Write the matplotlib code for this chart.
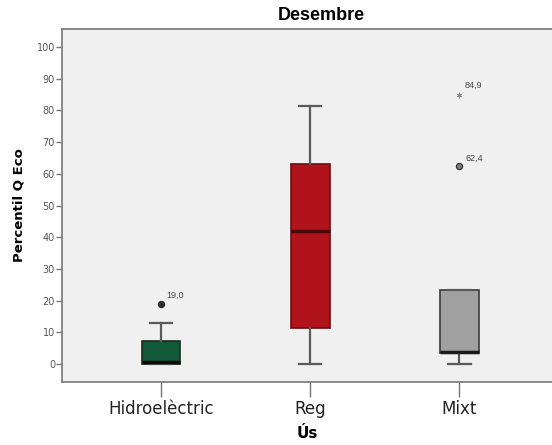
import matplotlib
matplotlib.use("Agg")
import matplotlib.pyplot as plt

categories = ["Hidroelèctric", "Reg", "Mixt"]
q1 = [0.0, 11.3, 3.4]
medians = [0.5, 42.0, 3.8]
q3 = [7.2, 63.0, 23.3]
whisk_lo = [0.0, 0.0, 0.0]
whisk_hi = [12.8, 81.5, 23.3]
outlier_vals = [[19.0], [], [62.4]]
outlier_labels = [["19,0"], [], ["62,4"]]
extreme_vals = [[], [], [84.9]]
extreme_labels = [[], [], ["84,9"]]
yticks = [0, 10, 20, 30, 40, 50, 60, 70, 80, 90, 100]

face_colors = ["#12593a", "#b0141a", "#a0a0a0"]
edge_colors = ["#1c2a1f", "#6e0c10", "#3a3a3a"]
median_colors = ["#0a0a0a", "#4a0506", "#1a1a1a"]

fig = plt.figure(figsize=(5.52, 4.45), dpi=100)
fig.patch.set_facecolor("white")
ax = fig.add_axes([62/552, 1-382/445, 1-62/552, (382-29)/445])
ax.set_facecolor("#f0f0f0")
plt.rcParams['font.family'] = ['Liberation Sans', 'DejaVu Sans']

stats = []
for i in range(len(categories)):
    stats.append(dict(med=medians[i], q1=q1[i], q3=q3[i],
                      whislo=whisk_lo[i], whishi=whisk_hi[i],
                      fliers=[], label=categories[i]))

bp = ax.bxp(stats, positions=range(len(categories)), widths=0.26,
            patch_artist=True, showfliers=False, showcaps=True)
for i, box in enumerate(bp['boxes']):
    box.set_facecolor(face_colors[i])
    box.set_edgecolor(edge_colors[i])
    box.set_linewidth(1.2)
for i, med in enumerate(bp['medians']):
    med.set_color(median_colors[i])
    med.set_linewidth(2.5)
for w in bp['whiskers']:
    w.set_color("#5a5a5a")
    w.set_linewidth(1.6)
for c in bp['caps']:
    c.set_color("#5a5a5a")
    c.set_linewidth(1.6)
    xd = c.get_xdata()
    mid = (xd[0] + xd[1]) / 2
    c.set_xdata([mid - 0.075, mid + 0.075])

for i in range(len(categories)):
    for v, lab in zip(outlier_vals[i], outlier_labels[i]):
        ax.plot(i, v, 'o', ms=4.5, mfc="#2a2a2a" if i == 0 else "#7a7a7a",
                mec="#2a2a2a", mew=0.8, zorder=5)
        ax.annotate(lab, (i, v), xytext=(4, 4), textcoords="offset points",
                    fontsize=6.5, color="#444444")
    for v, lab in zip(extreme_vals[i], extreme_labels[i]):
        ax.plot(i, v, marker=(6, 2, 0), ms=4, color="#888888", mew=0.6, zorder=5)
        ax.annotate(lab, (i, v), xytext=(4, 5), textcoords="offset points",
                    fontsize=6.5, color="#444444")

ax.set_xlim(-0.664, 2.62)
ax.set_ylim(-5.7, 105.7)
ax.set_yticks(yticks)
ax.set_yticklabels([str(t) for t in yticks], fontsize=7, color="#555555")
ax.set_xticks(range(len(categories)))
ax.set_xticklabels(categories, fontsize=12, color="#222222")
ax.tick_params(axis='y', length=4, width=1, color="#777777", pad=1)
ax.tick_params(axis='x', length=11, width=1, color="#777777", pad=2)

for s in ["left", "bottom", "top"]:
    ax.spines[s].set_color("#777777")
    ax.spines[s].set_linewidth(1.2)
ax.spines["right"].set_visible(False)

ax.set_ylabel("Percentil Q Eco", fontsize=9.5, fontweight="bold", labelpad=8)
ax.set_xlabel("Ús", fontsize=11, fontweight="bold", labelpad=6)
fig.text(321/552, 1-15/445, "Desembre", fontsize=13, fontweight="bold",
         ha="center", va="center")

fig.savefig("out.png", dpi=100)
